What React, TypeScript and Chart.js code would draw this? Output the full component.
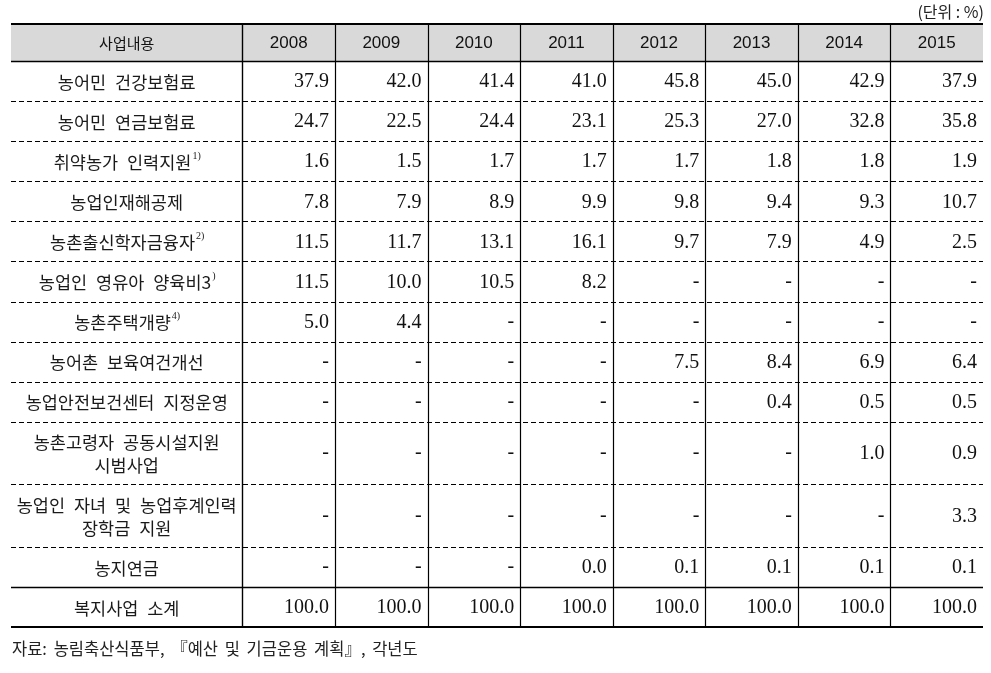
import React, { useEffect, useRef } from 'react';
import { Chart, registerables } from 'chart.js';

Chart.register(...registerables);

// ---------- data ----------
const unitLabel = '(단위 : %)';
const sourceNote = '자료: 농림축산식품부, 『예산 및 기금운용 계획』, 각년도';
const headerLabel = '사업내용';
const years = ['2008', '2009', '2010', '2011', '2012', '2013', '2014', '2015'];

const programs: string[][] = [
  ['농어민 건강보험료'],
  ['농어민 연금보험료'],
  ['취약농가 인력지원'],
  ['농업인재해공제'],
  ['농촌출신학자금융자'],
  ['농업인 영유아 양육비3'],
  ['농촌주택개량'],
  ['농어촌 보육여건개선'],
  ['농업안전보건센터 지정운영'],
  ['농촌고령자 공동시설지원', '시범사업'],
  ['농업인 자녀 및 농업후계인력', '장학금 지원'],
  ['농지연금'],
  ['복지사업 소계'],
];
const programNotes = ['', '', '1)', '', '2)', ')', '4)', '', '', '', '', '', ''];

const healthInsurance = [37.9, 42.0, 41.4, 41.0, 45.8, 45.0, 42.9, 37.9];
const pensionInsurance = [24.7, 22.5, 24.4, 23.1, 25.3, 27.0, 32.8, 35.8];
const laborSupport = [1.6, 1.5, 1.7, 1.7, 1.7, 1.8, 1.8, 1.9];
const accidentInsurance = [7.8, 7.9, 8.9, 9.9, 9.8, 9.4, 9.3, 10.7];
const studentLoans = [11.5, 11.7, 13.1, 16.1, 9.7, 7.9, 4.9, 2.5];
const infantCare = [11.5, 10.0, 10.5, 8.2, null, null, null, null];
const housingImprovement = [5.0, 4.4, null, null, null, null, null, null];
const childcareConditions = [null, null, null, null, 7.5, 8.4, 6.9, 6.4];
const safetyCenters = [null, null, null, null, null, 0.4, 0.5, 0.5];
const elderlyFacilities = [null, null, null, null, null, null, 1.0, 0.9];
const scholarships = [null, null, null, null, null, null, null, 3.3];
const farmlandPension = [null, null, null, 0.0, 0.1, 0.1, 0.1, 0.1];
const welfareSubtotal = [100.0, 100.0, 100.0, 100.0, 100.0, 100.0, 100.0, 100.0];

const tableValues: (number | null)[][] = [
  healthInsurance,
  pensionInsurance,
  laborSupport,
  accidentInsurance,
  studentLoans,
  infantCare,
  housingImprovement,
  childcareConditions,
  safetyCenters,
  elderlyFacilities,
  scholarships,
  farmlandPension,
  welfareSubtotal,
];

// ---------- layout (scale units) ----------
const LABEL_COL_UNITS = 2.5;
const HEADER_UNITS = 37;
const SINGLE_ROW_UNITS = 40.1;
const DOUBLE_ROW_UNITS = 62.5;

const rowHeights = programs.map((p) => (p.length > 1 ? DOUBLE_ROW_UNITS : SINGLE_ROW_UNITS));
const rowStarts: number[] = [];
{
  let acc = HEADER_UNITS;
  rowHeights.forEach((h) => {
    rowStarts.push(acc);
    acc += h;
  });
}
const totalUnits = HEADER_UNITS + rowHeights.reduce((a, b) => a + b, 0);
const xMax = LABEL_COL_UNITS + years.length;

const KFONT = '"Noto Sans CJK KR", "Noto Sans", sans-serif';
const NUMFONT = '"Liberation Serif", "DejaVu Serif", serif';
const SANSFONT = '"Liberation Sans", Arial, "Noto Sans CJK KR", sans-serif';

const tablePlugin = {
  id: 'tablePlugin',
  afterDraw(chart: any) {
    const { ctx, chartArea, scales } = chart;
    const xs = scales.x;
    const ys = scales.y;
    const X = (v: number) => xs.getPixelForValue(v);
    const Y = (v: number) => ys.getPixelForValue(v);
    const left = chartArea.left;
    const right = chartArea.right;

    ctx.save();

    // header background
    ctx.fillStyle = '#d9d9d9';
    ctx.fillRect(left, Y(0), right - left, Y(HEADER_UNITS) - Y(0));

    // horizontal lines
    const hLine = (y: number, w: number, dash: number[]) => {
      ctx.beginPath();
      ctx.setLineDash(dash);
      ctx.lineWidth = w;
      ctx.strokeStyle = '#000';
      ctx.moveTo(left, y);
      ctx.lineTo(right, y);
      ctx.stroke();
    };
    rowStarts.forEach((s, i) => {
      if (i === 0) return;
      if (i === rowStarts.length - 1) hLine(Math.round(Y(s)) + 0.5, 1.6, []);
      else hLine(Math.round(Y(s)) + 0.5, 1, [5, 3]);
    });
    hLine(Math.round(Y(HEADER_UNITS)) + 0.5, 1.6, []);
    hLine(Math.round(Y(0)), 2, []);
    hLine(Math.round(Y(totalUnits)), 2, []);

    // vertical lines
    ctx.setLineDash([]);
    for (let c = 0; c < years.length; c++) {
      const x = Math.round(X(LABEL_COL_UNITS + c)) + 0.5;
      ctx.beginPath();
      ctx.lineWidth = c === 0 ? 1.4 : 1.2;
      ctx.strokeStyle = '#000';
      ctx.moveTo(x, Y(0));
      ctx.lineTo(x, Y(totalUnits));
      ctx.stroke();
    }

    // header text
    ctx.textBaseline = 'middle';
    ctx.textAlign = 'center';
    ctx.fillStyle = '#111';
    const hy = Y(HEADER_UNITS / 2) + 1;
    ctx.font = `15px ${KFONT}`;
    ctx.fillText(headerLabel, X(LABEL_COL_UNITS / 2), hy);
    ctx.font = `17px ${SANSFONT}`;
    years.forEach((yr, c) => {
      ctx.fillText(yr, X(LABEL_COL_UNITS + c + 0.5), hy);
    });

    // row labels
    const LABEL_FONT = `17.5px ${KFONT}`;
    programs.forEach((lines, r) => {
      const cy = Y(rowStarts[r] + rowHeights[r] / 2);
      const lineGap = 23;
      lines.forEach((line, li) => {
        const ly = cy + (li - (lines.length - 1) / 2) * lineGap + 1;
        ctx.font = LABEL_FONT;
        (ctx as any).wordSpacing = '5px';
        const mainW = ctx.measureText(line).width;
        const note = li === lines.length - 1 ? programNotes[r] : '';
        ctx.font = `10px ${NUMFONT}`;
        const noteW = note ? ctx.measureText(note).width : 0;
        const startX = X(LABEL_COL_UNITS / 2) - (mainW + noteW) / 2;
        ctx.textAlign = 'left';
        ctx.font = LABEL_FONT;
        ctx.fillStyle = '#1a1a1a';
        ctx.fillText(line, startX, ly);
        if (note) {
          ctx.font = `10px ${NUMFONT}`;
          ctx.fillText(note, startX + mainW + 1, ly - 6);
        }
      });
    });
    (ctx as any).wordSpacing = '0px';

    // values
    ctx.textAlign = 'right';
    ctx.font = `20px ${NUMFONT}`;
    ctx.fillStyle = '#111';
    tableValues.forEach((vals, r) => {
      const cy = Y(rowStarts[r] + rowHeights[r] / 2) + 1;
      vals.forEach((v, c) => {
        const txt = v === null ? '-' : v.toFixed(1);
        ctx.fillText(txt, X(LABEL_COL_UNITS + c + 1) - 6, v === null ? cy - 1 : cy);
      });
    });

    // unit label & source
    ctx.font = `16px ${KFONT}`;
    ctx.textAlign = 'right';
    ctx.fillStyle = '#222';
    ctx.fillText(unitLabel, right + 1, Y(0) - 12);
    ctx.textAlign = 'left';
    ctx.font = `16.5px ${KFONT}`;
    (ctx as any).wordSpacing = '3px';
    ctx.fillText(sourceNote, left + 1, Y(totalUnits) + 22);
    (ctx as any).wordSpacing = '0px';

    ctx.restore();
  },
};

export default function App() {
  const canvasRef = useRef<HTMLCanvasElement | null>(null);

  useEffect(() => {
    if (!canvasRef.current) return;
    const chart = new Chart(canvasRef.current, {
      type: 'scatter',
      data: {
        datasets: tableValues.map((vals, r) => ({
          label: programs[r].join(' '),
          data: vals.map((v, c) => ({ x: LABEL_COL_UNITS + c + 0.5, y: rowStarts[r] + rowHeights[r] / 2, v })),
          pointRadius: 0,
          pointHoverRadius: 0,
        })),
      },
      options: {
        responsive: false,
        devicePixelRatio: 1,
        animation: false,
        events: [],
        layout: { padding: { left: 11, right: 8, top: 24, bottom: 46 } },
        plugins: { legend: { display: false }, tooltip: { enabled: false } },
        scales: {
          x: { type: 'linear', display: false, min: 0, max: xMax },
          y: { type: 'linear', display: false, min: 0, max: totalUnits, reverse: true },
        },
      },
      plugins: [tablePlugin],
    } as any);
    return () => chart.destroy();
  }, []);

  return (
    <div style={{ position: 'absolute', left: 0, top: 0, width: 991, height: 673, background: '#fff' }}>
      <canvas ref={canvasRef} width={991} height={673} style={{ display: 'block' }} />
    </div>
  );
}
